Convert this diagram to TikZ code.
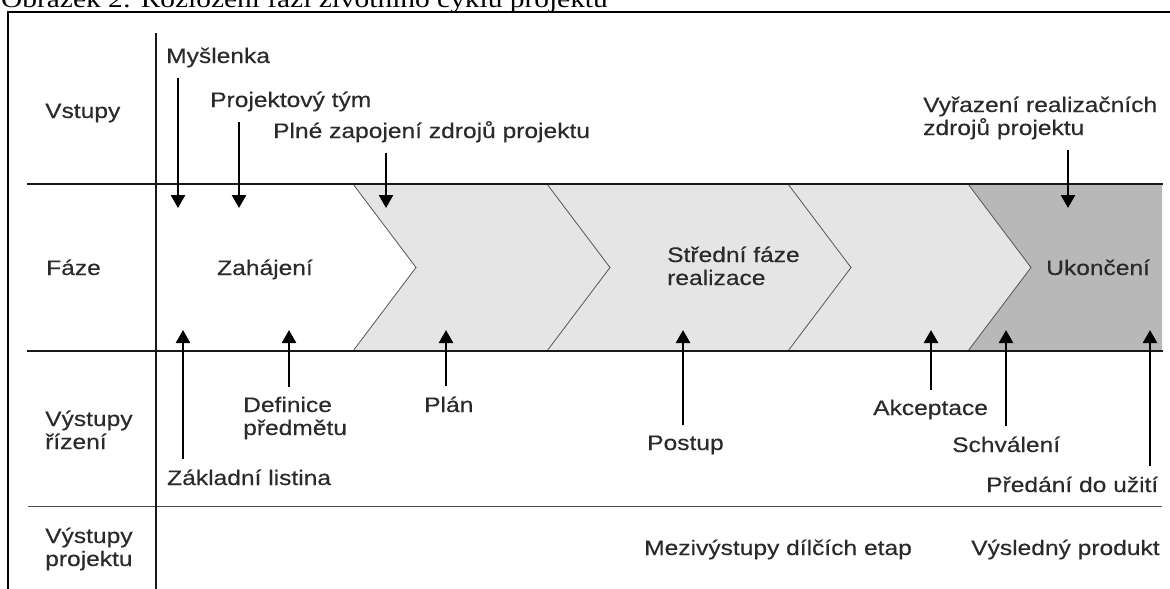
\documentclass[tikz,border=0pt]{standalone}
\usepackage{fontspec}
\setmainfont{Liberation Sans}[FakeStretch=1.17, FakeBold=0.35]
\newfontfamily\capfont{Liberation Serif}[FakeStretch=1.2]
\usetikzlibrary{arrows.meta}

\definecolor{lightphase}{HTML}{E5E5E5}
\definecolor{darkphase}{HTML}{B8B8B8}
\definecolor{chevline}{HTML}{555555}
\definecolor{txt}{HTML}{2A2A2A}

\tikzset{
  lbl/.style={anchor=base west, inner xsep=0pt, inner ysep=10pt, text=txt, align=left},
  arr/.style={-{Triangle[width=14pt,length=13pt]}, line width=2.5pt},
  rule/.style={line width=2pt, draw=black!90},
  chev/.style={line width=0.8pt, draw=chevline},
}

\begin{document}
\begin{tikzpicture}[x=1pt, y=-1pt, font=\fontsize{21}{23}\selectfont]
\useasboundingbox (0,0) rectangle (1170,589);
\clip (0,0) rectangle (1170,589);

% caption, cut off at the top
\node[anchor=base west, inner sep=0pt, font=\capfont\fontsize{24.5}{28}\selectfont] (caption) at (1,7) {Obrázek 2: Rozložení fází životního cyklu projektu};

% frame
\draw[line width=2pt] (8,600) -- (8,12) -- (1180,12);

% phase band
\fill[lightphase] (353,184) -- (416,267.5) -- (353,351) -- (968,351) -- (1031,267.5) -- (968,184) -- cycle;
\fill[darkphase] (968,184) -- (1031,267.5) -- (968,351) -- (1162,351) -- (1162,184) -- cycle;
\foreach \x in {353,547,788,968}
  \draw[chev] (\x,184) -- ++(63,83.5) -- ++(-63,83.5);

% rows
\draw[rule] (27,184) -- (1163,184);
\draw[rule] (27,351) -- (1163,351);
\draw[line width=1pt, draw=black!70] (28,506) -- (1162,506);
\draw[rule] (156,33) -- (156,600);

% row titles (multi-line nodes sit on their last line)
\node[lbl] (vstupy) at (45,118) {Vstupy};
\node[lbl] (faze) at (46,275) {Fáze};
\node[lbl] (vyrizeni) at (45,449) {Výstupy\\řízení};
\node[lbl] (vyprojektu) at (45,566) {Výstupy\\projektu};

% phases
\node[lbl] (zahajeni) at (217,275) {Zahájení};
\node[lbl] (stredni) at (667,285) {Střední fáze\\realizace};
\node[lbl] (ukonceni) at (1046,275) {Ukončení};

% inputs
\node[lbl] (myslenka) at (166,63) {Myšlenka};
\node[lbl] (tym) at (210,107) {Projektový tým};
\node[lbl] (zapojeni) at (273,138) {Plné zapojení zdrojů projektu};
\node[lbl] (vyrazeni) at (923,135) {Vyřazení realizačních\\zdrojů projektu};

% outputs
\node[lbl] (definice) at (243,435) {Definice\\předmětu};
\node[lbl] (plan) at (424,412) {Plán};
\node[lbl] (zakladni) at (167,485) {Základní listina};
\node[lbl] (postup) at (647,450) {Postup};
\node[lbl] (akceptace) at (873,415) {Akceptace};
\node[lbl] (schvaleni) at (952,452) {Schválení};
\node[lbl] (predani) at (986,492) {Předání do užití};
\node[lbl] (mezivystupy) at (644,555) {Mezivýstupy dílčích etap};
\node[lbl] (produkt) at (971,555) {Výsledný produkt};

% arrows into the band
\foreach \n/\x in {myslenka/178, tym/239, zapojeni/386, vyrazeni/1068} {
  \coordinate (\n-tip) at (\x,208);
  \draw[arr] (\n.south -| \n-tip) -- (\n-tip);
}
\foreach \n/\x in {zakladni/183, definice/289, plan/446, postup/683, akceptace/931, schvaleni/1006, predani/1150} {
  \coordinate (\n-tip) at (\x,330);
  \draw[arr] (\n.north -| \n-tip) -- (\n-tip);
}
\end{tikzpicture}
\end{document}
